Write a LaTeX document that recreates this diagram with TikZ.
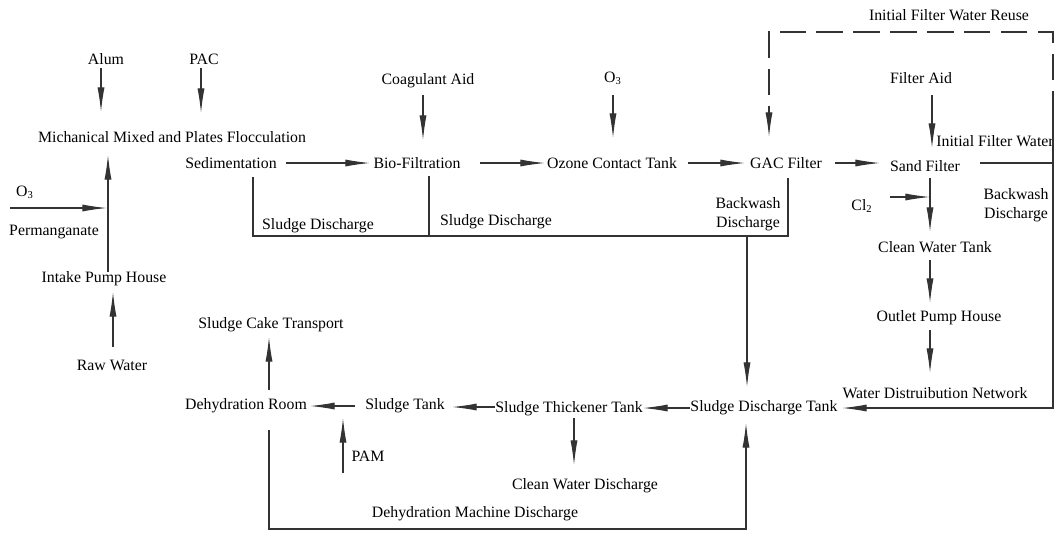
\documentclass[tikz,border=0pt]{standalone}
\usepackage{fontspec}
\setmainfont{Liberation Serif}
\usetikzlibrary{arrows.meta,calc}

\tikzset{
  lbl/.style={inner sep=0pt, font=\rmfamily\fontsize{9}{10.5}\selectfont},
  pipe/.style={line width=0.6pt, black!80},
  flow/.style={pipe, -{Latex[length=14pt,width=4pt]}},
  reuse/.style={dash pattern=on 15pt off 6pt},
}

\begin{document}
\begin{tikzpicture}[x=0.02cm,y=-0.02cm]
    \useasboundingbox (0,0) rectangle (1054,532);

    % treatment line
    \node[lbl] (reuse)  at (949,15)  {Initial Filter Water Reuse};
    \node[lbl] (alum)   at (106,59)  {Alum};
    \node[lbl] (pac)    at (204,59)  {PAC};
    \node[lbl] (floc)   at (172,137) {Michanical Mixed and Plates Flocculation};
    \node[lbl] (sed)    at (231,163) {Sedimentation};
    \node[lbl] (coag)   at (428,81)  {Coagulant Aid};
    \node[lbl] (bio)    at (417,163) {Bio-Filtration};
    \node[lbl] (ozo)    at (613,78)  {O\textsubscript{3}};
    \node[lbl] (ozone)  at (612,163) {Ozone Contact Tank};
    \node[lbl] (gac)    at (786,163) {GAC Filter};
    \node[lbl] (faid)   at (921,78)  {Filter Aid};
    \node[lbl] (ifw)    at (995,141) {Initial Filter Water};
    \node[lbl] (sand)   at (925,166) {Sand Filter};
    \node[lbl] (cl)     at (862,206) {Cl\textsubscript{2}};
    \node[lbl,align=center] (bwr) at (1016,205) {Backwash\\Discharge};
    \node[lbl] (clean)  at (935,247) {Clean Water Tank};
    \node[lbl] (outlet) at (939,318) {Outlet Pump House};
    \node[lbl] (net)    at (935,393) {Water Distruibution Network};

    % intake
    \node[lbl] (o3in)   at (25,192)  {O\textsubscript{3}};
    \node[lbl] (perm)   at (54,232)  {Permanganate};
    \node[lbl] (intake) at (104,279) {Intake Pump House};
    \node[lbl] (raw)    at (112,365) {Raw Water};

    % sludge line
    \node[lbl] (sd1)    at (318,226) {Sludge Discharge};
    \node[lbl] (sd2)    at (496,222) {Sludge Discharge};
    \node[lbl,align=center] (bwg) at (748,214) {Backwash\\Discharge};
    \node[lbl] (sdt)    at (764,408) {Sludge Discharge Tank};
    \node[lbl] (thick)  at (569,409) {Sludge Thickener Tank};
    \node[lbl] (stank)  at (405,406) {Sludge Tank};
    \node[lbl] (dehy)   at (246,406) {Dehydration Room};
    \node[lbl] (pam)    at (368,456) {PAM};
    \node[lbl] (cwd)    at (585,486) {Clean Water Discharge};
    \node[lbl] (cake)   at (271,325) {Sludge Cake Transport};
    \node[lbl] (dmd)    at (475,514) {Dehydration Machine Discharge};

    \coordinate (rtop)  at (1053,32);
    \coordinate (rdash) at (1053,117);
    \coordinate (rmid)  at (1053,163);
    \coordinate (rbot)  at (1053,408);
    \coordinate (sl)    at (253,236);
    \coordinate (sb)    at (429,236);
    \coordinate (sd)    at (747,236);
    \coordinate (sr)    at (788,236);
    \coordinate (mdl)   at (269,529);
    \coordinate (mdr)   at (746,529);

    % dosing
    \draw[flow] ($(alum)+(-5,9)$) -- ($(floc)+(-71,-25)$);
    \draw[flow] ($(pac)+(-3,9)$) -- ($(floc)+(29,-24)$);
    \draw[flow] ($(coag)+(-5,14)$) -- ($(bio)+(6,-23)$);
    \draw[flow] ($(ozo)+(0,17)$) -- ($(ozone)+(1,-25)$);
    \draw[flow] ($(faid)+(11,17)$) -- ($(sand)+(7,-18)$);
    \draw[flow] ($(cl)+(28,-9)$) -- ($(sand)+(5,31)$);
    \draw[flow] ($(o3in)+(-15,16)$) -- ($(intake)+(3,-71)$);

    % main flow
    \draw[flow] ($(raw)+(1,-18)$) -- ($(intake)+(9,13)$);
    \draw[flow] ($(intake)+(4,-7)$) -- ($(floc)+(-64,18)$);
    \draw[flow] ($(sed)+(55,0)$) -- ($(bio)+(-47,0)$);
    \draw[flow] ($(bio)+(63,0)$) -- ($(ozone)+(-67,0)$);
    \draw[flow] ($(ozone)+(76,0)$) -- ($(gac)+(-41,0)$);
    \draw[flow] ($(gac)+(49,0)$) -- ($(sand)+(-45,-3)$);
    \draw[flow] ($(sand)+(5,12)$) -- ($(clean)+(-5,-15)$);
    \draw[flow] ($(clean)+(-5,13)$) -- ($(outlet)+(-9,-15)$);
    \draw[flow] ($(outlet)+(-9,12)$) -- ($(net)+(-5,-20)$);

    % initial filter water and backwash
    \draw[pipe] ($(sand)+(55,-3)$) -- (rmid);
    \draw[flow,reuse] (rdash) -- (rtop) -| ($(gac)+(-17,-26)$);
    \draw[flow] (rdash) -- (rbot) -- ($(sdt)+(78,0)$);

    % sludge collection
    \draw[pipe] ($(sed)+(22,14)$) -- (sl) -- (sr) -- ($(gac)+(2,15)$);
    \draw[pipe] ($(bio)+(12,13)$) -- (sb);
    \draw[flow] (sd) -- ($(sdt)+(-17,-21)$);

    % sludge treatment
    \draw[flow] ($(sdt)+(-74,0)$) -- ($(thick)+(74,-1)$);
    \draw[flow] ($(thick)+(-74,-2)$) -- ($(stank)+(47,1)$);
    \draw[flow] ($(stank)+(-50,0)$) -- ($(dehy)+(64,0)$);
    \draw[flow] ($(pam)+(-25,17)$) -- ($(stank)+(-62,12)$);
    \draw[flow] ($(thick)+(5,9)$) -- ($(cwd)+(-11,-21)$);
    \draw[flow] ($(dehy)+(23,-16)$) -- ($(cake)+(-2,12)$);
    \draw[flow] ($(dehy)+(23,24)$) -- (mdl) -- (mdr) -- ($(sdt)+(-18,15)$);
\end{tikzpicture}
\end{document}
